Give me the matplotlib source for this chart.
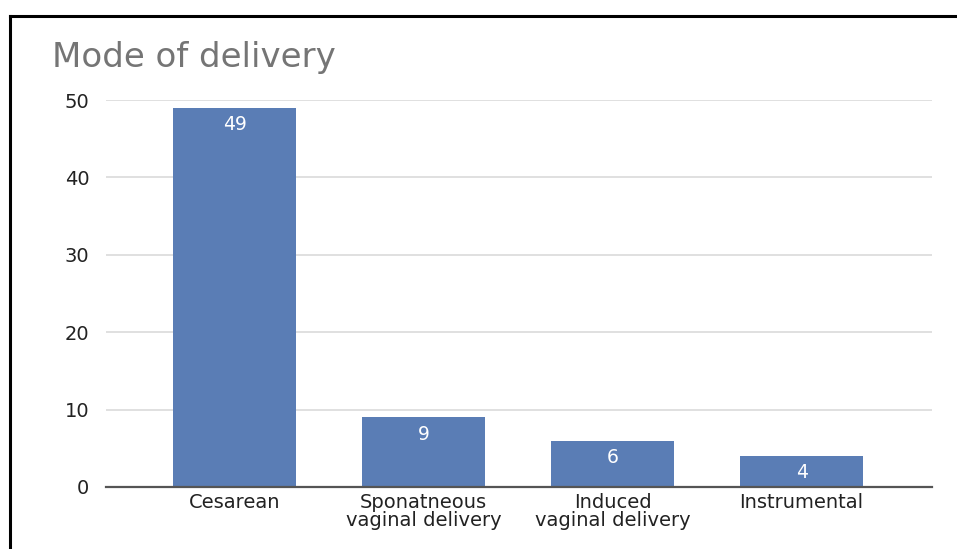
import matplotlib
matplotlib.use("Agg")
import matplotlib.pyplot as plt
from matplotlib.lines import Line2D

categories = ["Cesarean", "Sponatneous\nvaginal delivery", "Induced\nvaginal delivery", "Instrumental"]
counts = [49, 9, 6, 4]
yticks = [0, 10, 20, 30, 40, 50]

plt.rcParams["font.family"] = ["DejaVu Sans"]

W, H = 957, 549
fig = plt.figure(figsize=(W / 100, H / 100), dpi=100)
ax = fig.add_axes([106 / W, 1 - 487 / H, (932 - 106) / W, (487 - 100) / H])

bar_color = "#5a7db5"
x = list(range(len(categories)))
bars = ax.bar(x, counts, width=0.65, color=bar_color, zorder=3)

for b, v in zip(bars, counts):
    ax.text(b.get_x() + b.get_width() / 2, v - 0.95, str(v), ha="center", va="top",
            color="white", fontsize=13.5, zorder=4)

ax.set_xlim(-0.68, 3.69)
ax.set_ylim(0, 50)
ax.set_yticks(yticks)
ax.set_xticks(x)
ax.set_xticklabels(categories, fontsize=14, color="#222222", linespacing=0.95)
ax.tick_params(axis="y", length=0, pad=12, labelsize=14, labelcolor="#222222")
ax.tick_params(axis="x", length=0, pad=4)
ax.grid(axis="y", color="#dadada", linewidth=1.2, zorder=0)
for s in ["top", "right", "left"]:
    ax.spines[s].set_visible(False)
ax.spines["bottom"].set_color("#555555")
ax.spines["bottom"].set_linewidth(1.6)
ax.spines["bottom"].set_zorder(5)

fig.text(52 / W, 1 - 57 / H, "Mode of delivery", fontsize=24.5, color="#757575",
         ha="left", va="center")

# outer frame
fig.add_artist(Line2D([10 / W, 1.0], [1 - 16 / H, 1 - 16 / H], color="black", linewidth=2.2,
                      transform=fig.transFigure))
fig.add_artist(Line2D([10 / W, 10 / W], [0, 1 - 16 / H], color="black", linewidth=2.2,
                      transform=fig.transFigure))

fig.savefig("out.png", dpi=100)
